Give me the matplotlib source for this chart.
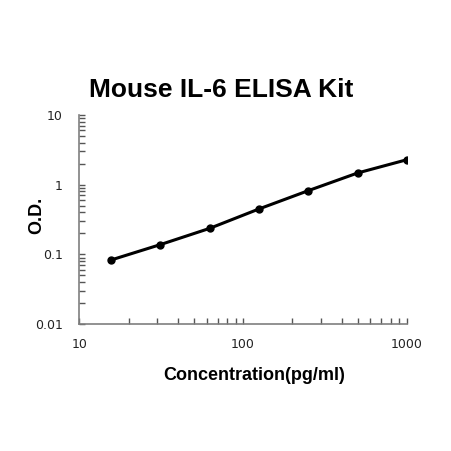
import numpy as np
import matplotlib.pyplot as plt
from matplotlib.ticker import LogLocator, NullFormatter, FixedLocator, FixedFormatter

# standard curve data
conc = [15.625, 31.25, 62.5, 125, 250, 500, 1000]
od = [0.083, 0.138, 0.236, 0.448, 0.82, 1.47, 2.28]

x_ticks = [10, 100, 1000]
x_labels = ['10', '100', '1000']
y_ticks = [0.01, 0.1, 1, 10]
y_labels = ['0.01', '0.1', '1', '10']

fig = plt.figure(figsize=(4.51, 4.51), dpi=100)
ax = fig.add_axes([0.176, 0.2816, 0.726, 0.4634])

ax.plot(conc, od, '-', color='black', lw=2.2)
ax.plot(conc, od, 'o', color='black', ms=5)

ax.set_xscale('log')
ax.set_yscale('log')
ax.set_xlim(10, 1000)
ax.set_ylim(0.01, 10)

for side in ['top', 'right']:
    ax.spines[side].set_visible(False)
for side in ['left', 'bottom']:
    ax.spines[side].set_color('#7f7f7f')
    ax.spines[side].set_linewidth(1.2)

ax.xaxis.set_major_locator(FixedLocator(x_ticks))
ax.xaxis.set_major_formatter(FixedFormatter(x_labels))
ax.yaxis.set_major_locator(FixedLocator(y_ticks))
ax.yaxis.set_major_formatter(FixedFormatter(y_labels))
ax.xaxis.set_minor_locator(LogLocator(base=10, subs=np.arange(2, 10)))
ax.yaxis.set_minor_locator(LogLocator(base=10, subs=np.arange(2, 10)))
ax.xaxis.set_minor_formatter(NullFormatter())
ax.yaxis.set_minor_formatter(NullFormatter())

ax.tick_params(which='both', direction='in', length=4, width=1, color='#555555')
ax.tick_params(which='major', labelsize=9, pad=10, labelcolor='#222222')
ax.tick_params(axis='y', which='major', pad=12)

fig.text(0.49, 0.80, 'Mouse IL-6 ELISA Kit', ha='center', va='center',
         fontsize=19, fontweight='bold', family='Liberation Sans')
fig.text(0.563, 0.168, 'Concentration(pg/ml)', ha='center', va='center',
         fontsize=13, fontweight='bold', family='Liberation Sans')
fig.text(0.082, 0.523, 'O.D.', ha='center', va='center', rotation=90,
         fontsize=13, fontweight='bold', family='Liberation Sans')

fig.savefig('out.png', dpi=100, facecolor='white')
